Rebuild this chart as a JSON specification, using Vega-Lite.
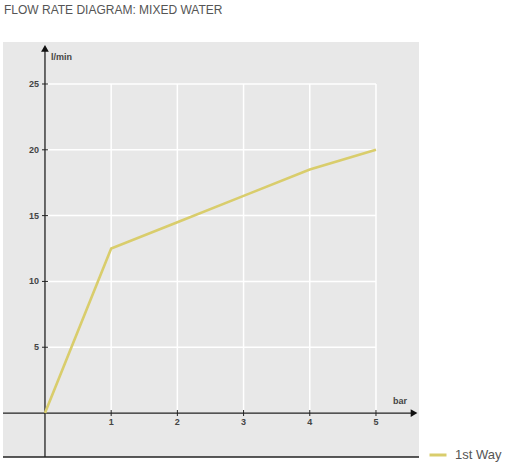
{
  "$schema": "https://vega.github.io/schema/vega-lite/v6.json",
  "width": 416,
  "height": 415,
  "autosize": "none",
  "padding": {"left": 3, "top": 42, "right": 89, "bottom": 8},
  "background": "white",
  "title": {
    "text": "FLOW RATE DIAGRAM: MIXED WATER",
    "anchor": "start",
    "frame": "group",
    "baseline": "alphabetic",
    "offset": 16,
    "dx": 1,
    "font": "Liberation Sans",
    "fontSize": 12,
    "fontWeight": "normal",
    "color": "#555555"
  },
  "config": {
    "view": {"fill": "#e8e8e8", "stroke": null},
    "font": "Liberation Sans"
  },
  "datasets": {
    "flow": [
      {"bar": 0, "lmin": 0},
      {"bar": 1, "lmin": 12.5},
      {"bar": 2, "lmin": 14.5},
      {"bar": 3, "lmin": 16.5},
      {"bar": 4, "lmin": 18.5},
      {"bar": 5, "lmin": 20}
    ],
    "xgrid": [
      {"bar": 1, "y1": 0, "y2": 25},
      {"bar": 2, "y1": 0, "y2": 25},
      {"bar": 3, "y1": 0, "y2": 25},
      {"bar": 4, "y1": 0, "y2": 25},
      {"bar": 5, "y1": 0, "y2": 25}
    ],
    "ygrid": [
      {"lmin": 5, "x1": 0, "x2": 5},
      {"lmin": 10, "x1": 0, "x2": 5},
      {"lmin": 15, "x1": 0, "x2": 5},
      {"lmin": 20, "x1": 0, "x2": 5},
      {"lmin": 25, "x1": 0, "x2": 5}
    ]
  },
  "encoding": {
    "x": {"type": "quantitative", "scale": {"domain": [-0.634, 5.65], "nice": false, "zero": false}, "axis": null},
    "y": {"type": "quantitative", "scale": {"domain": [-3.34, 28.19], "nice": false, "zero": false}, "axis": null}
  },
  "layer": [
    {
      "data": {"name": "xgrid"},
      "mark": {"type": "rule", "color": "white", "strokeWidth": 1.5},
      "encoding": {
        "x": {"field": "bar", "type": "quantitative"},
        "y": {"field": "y1", "type": "quantitative"},
        "y2": {"field": "y2"}
      }
    },
    {
      "data": {"name": "ygrid"},
      "mark": {"type": "rule", "color": "white", "strokeWidth": 1.5},
      "encoding": {
        "y": {"field": "lmin", "type": "quantitative"},
        "x": {"field": "x1", "type": "quantitative"},
        "x2": {"field": "x2"}
      }
    },
    {
      "data": {"values": [{"x1": -0.634, "x2": 5.65, "y": -3.34}]},
      "mark": {"type": "rule", "color": "#222222", "strokeWidth": 1.5},
      "encoding": {
        "y": {"field": "y", "type": "quantitative"},
        "x": {"field": "x1", "type": "quantitative"},
        "x2": {"field": "x2"}
      }
    },
    {
      "data": {"values": [{"x1": -0.634, "x2": 5.55, "y": 0}]},
      "mark": {"type": "rule", "color": "#222222", "strokeWidth": 1.3},
      "encoding": {
        "y": {"field": "y", "type": "quantitative"},
        "x": {"field": "x1", "type": "quantitative"},
        "x2": {"field": "x2"}
      }
    },
    {
      "data": {"values": [{"x": 0, "y1": -3.34, "y2": 27.6}]},
      "mark": {"type": "rule", "color": "#222222", "strokeWidth": 1.3},
      "encoding": {
        "x": {"field": "x", "type": "quantitative"},
        "y": {"field": "y1", "type": "quantitative"},
        "y2": {"field": "y2"}
      }
    },
    {
      "data": {"values": [{"x": 0, "y": 27.7}]},
      "mark": {"type": "point", "shape": "triangle-up", "filled": true, "color": "#111111", "size": 60, "opacity": 1},
      "encoding": {
        "x": {"field": "x", "type": "quantitative"},
        "y": {"field": "y", "type": "quantitative"}
      }
    },
    {
      "data": {"values": [{"x": 5.575, "y": 0}]},
      "mark": {"type": "point", "shape": "triangle-right", "filled": true, "color": "#111111", "size": 60, "opacity": 1},
      "encoding": {
        "x": {"field": "x", "type": "quantitative"},
        "y": {"field": "y", "type": "quantitative"}
      }
    },
    {
      "data": {"name": "ygrid"},
      "mark": {"type": "tick", "orient": "horizontal", "color": "#222222", "size": 6, "thickness": 1, "opacity": 1},
      "encoding": {
        "y": {"field": "lmin", "type": "quantitative"},
        "x": {"datum": 0, "type": "quantitative"}
      }
    },
    {
      "data": {"name": "xgrid"},
      "mark": {"type": "tick", "orient": "vertical", "color": "#222222", "size": 6, "thickness": 1, "opacity": 1},
      "encoding": {
        "x": {"field": "bar", "type": "quantitative"},
        "y": {"datum": 0, "type": "quantitative"}
      }
    },
    {
      "data": {"name": "ygrid"},
      "mark": {"type": "text", "align": "right", "baseline": "middle", "dx": -6, "fontSize": 9, "fontWeight": "bold", "color": "#444444"},
      "encoding": {
        "y": {"field": "lmin", "type": "quantitative"},
        "x": {"datum": 0, "type": "quantitative"},
        "text": {"field": "lmin", "type": "quantitative"}
      }
    },
    {
      "data": {"name": "xgrid"},
      "mark": {"type": "text", "align": "center", "baseline": "middle", "dy": 9, "fontSize": 9, "fontWeight": "bold", "color": "#444444"},
      "encoding": {
        "x": {"field": "bar", "type": "quantitative"},
        "y": {"datum": 0, "type": "quantitative"},
        "text": {"field": "bar", "type": "quantitative"}
      }
    },
    {
      "data": {"values": [{"x": 0, "y": 27.05, "label": "l/min"}, {"x": 5.166, "y": 0.9, "label": "bar"}]},
      "mark": {"type": "text", "align": "left", "baseline": "middle", "dx": 6, "fontSize": 9, "fontWeight": "bold", "color": "#444444"},
      "encoding": {
        "x": {"field": "x", "type": "quantitative"},
        "y": {"field": "y", "type": "quantitative"},
        "text": {"field": "label"}
      }
    },
    {
      "data": {"name": "flow"},
      "mark": {"type": "line", "strokeWidth": 2.6, "strokeJoin": "miter"},
      "encoding": {
        "x": {"field": "bar", "type": "quantitative"},
        "y": {"field": "lmin", "type": "quantitative"},
        "color": {
          "datum": "1st Way",
          "scale": {"range": ["#d9cd6c"]},
          "legend": {
            "title": null,
            "orient": "none",
            "legendX": 425,
            "legendY": 403,
            "padding": 0,
            "symbolType": "stroke",
            "symbolSize": 289,
            "symbolStrokeWidth": 3,
            "labelFontSize": 13,
            "labelColor": "#555555",
            "labelOffset": 7
          }
        }
      }
    }
  ]
}
